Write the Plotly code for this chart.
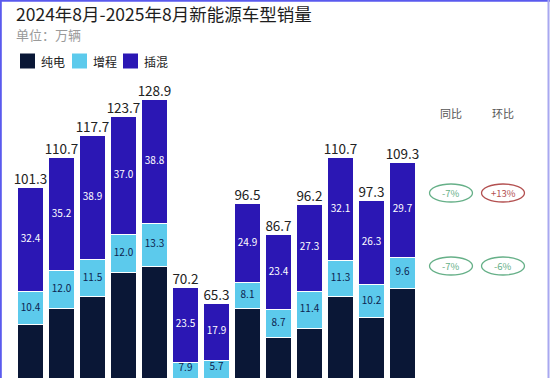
import plotly.graph_objects as go

months = ["2024-08", "2024-09", "2024-10", "2024-11", "2024-12", "2025-01", "2025-02",
          "2025-03", "2025-04", "2025-05", "2025-06", "2025-07", "2025-08"]
total = [101.3, 110.7, 117.7, 123.7, 128.9, 70.2, 65.3, 96.5, 86.7, 96.2, 110.7, 97.3, 109.3]
phev = [32.4, 35.2, 38.9, 37.0, 38.8, 23.5, 17.9, 24.9, 23.4, 27.3, 32.1, 26.3, 29.7]
erev = [10.4, 12.0, 11.5, 12.0, 13.3, 7.9, 5.7, 8.1, 8.7, 11.4, 11.3, 10.2, 9.6]
bev = [round(t - p - e, 1) for t, p, e in zip(total, phev, erev)]
series_names = ["纯电", "增程", "插混"]
yoy = ["-7%", "-7%"]
mom = ["+13%", "-6%"]

C_BEV = "#0a1736"
C_EREV = "#5ccaec"
C_PHEV = "#2b17b4"
FONT = "Noto Sans CJK SC"

W, H = 550, 378
Y_MIN = (512 - H) / 3.2
Y_MAX = 512 / 3.2
x = list(range(len(months)))

fig = go.Figure()
for name, vals, col in [(series_names[0], bev, C_BEV), (series_names[1], erev, C_EREV), (series_names[2], phev, C_PHEV)]:
    fig.add_trace(go.Bar(x=x, y=vals, name=name, marker=dict(color=col, line=dict(color="white", width=1)),
                         width=0.82, showlegend=False, hoverinfo="skip"))

# label at the middle of the visible part of each segment
erev_mid = [(max(b, Y_MIN + 1.2) + b + e) / 2 for b, e in zip(bev, erev)]
phev_mid = [b + e + p / 2 for b, e, p in zip(bev, erev, phev)]
fig.add_trace(go.Scatter(x=x, y=erev_mid, mode="text", text=[f"{v:.1f}" for v in erev],
                         textfont=dict(size=10, color="#0d2450", family=FONT), cliponaxis=False, showlegend=False,
                         hoverinfo="skip"))
fig.add_trace(go.Scatter(x=x, y=phev_mid, mode="text", text=[f"{v:.1f}" for v in phev],
                         textfont=dict(size=10, color="white", family=FONT), cliponaxis=False, showlegend=False,
                         hoverinfo="skip"))
fig.add_trace(go.Scatter(x=x, y=total, mode="text", text=[f"{v:.1f}" for v in total], textposition="top center",
                         textfont=dict(size=13.5, color="#222222", family=FONT), cliponaxis=False, showlegend=False,
                         hoverinfo="skip"))

def px(xp):
    return xp / W

def py(yp):
    return 1 - yp / H

shapes = []
annotations = []
# title
annotations.append(dict(x=px(14), y=py(14), xref="paper", yref="paper", xanchor="left", yanchor="middle",
                        text="2024年8月-2025年8月新能源车型销量", showarrow=False,
                        font=dict(size=17.5, color="#1e1e1e", family=FONT)))
annotations.append(dict(x=px(14), y=py(35), xref="paper", yref="paper", xanchor="left", yanchor="middle",
                        text="单位：万辆", showarrow=False, font=dict(size=13, color="#9a9a9a", family=FONT)))
# legend
leg_x = [20, 72, 123]
for lx, name, col in zip(leg_x, series_names, [C_BEV, C_EREV, C_PHEV]):
    shapes.append(dict(type="rect", xref="paper", yref="paper", x0=px(lx), x1=px(lx + 15), y0=py(68.5), y1=py(53.5),
                       fillcolor=col, line=dict(width=0)))
    annotations.append(dict(x=px(lx + 19), y=py(61), xref="paper", yref="paper", xanchor="left", yanchor="middle",
                            text=name, showarrow=False, font=dict(size=12, color="#222222", family=FONT)))
# comparison headers
for cx, t in [(451, "同比"), (503, "环比")]:
    annotations.append(dict(x=px(cx), y=py(113), xref="paper", yref="paper", xanchor="center", yanchor="middle",
                            text=t, showarrow=False, font=dict(size=11, color="#555555", family=FONT)))
# ovals
rows_y = [193, 266]
for ry, a, b in zip(rows_y, yoy, mom):
    for cx, t in [(451, a), (503, b)]:
        col = "#b35050" if t.startswith("+") else "#66b088"
        shapes.append(dict(type="circle", xref="paper", yref="paper", x0=px(cx - 21.5), x1=px(cx + 21.5),
                           y0=py(ry + 9), y1=py(ry - 9), line=dict(color=col, width=1.3), fillcolor="rgba(0,0,0,0)"))
        annotations.append(dict(x=px(cx), y=py(ry), xref="paper", yref="paper", xanchor="center", yanchor="middle",
                                text=t, showarrow=False, font=dict(size=9.5, color=col, family=FONT)))
# frame
shapes.append(dict(type="line", xref="paper", yref="paper", x0=0, x1=1, y0=py(0.8), y1=py(0.8),
                   line=dict(color="#5a5aee", width=2)))
shapes.append(dict(type="line", xref="paper", yref="paper", x0=px(0.8), x1=px(0.8), y0=0, y1=1,
                   line=dict(color="#5a5aee", width=2)))
shapes.append(dict(type="line", xref="paper", yref="paper", x0=px(548.5), x1=px(548.5), y0=0, y1=1,
                   line=dict(color="#a8a8f0", width=2)))

x0 = -30.5 / 31
x1 = (W - 30.5) / 31
fig.update_layout(
    width=W, height=H, margin=dict(l=0, r=0, t=0, b=0),
    barmode="stack", bargap=0.18,
    plot_bgcolor="white", paper_bgcolor="white",
    xaxis=dict(range=[x0, x1], visible=False, fixedrange=True),
    yaxis=dict(range=[Y_MIN, Y_MAX], visible=False, fixedrange=True),
    shapes=shapes, annotations=annotations, showlegend=False,
    hovermode=False,
)
fig.write_html("out.html", config={"displayModeBar": False, "staticPlot": True},
               post_script="document.body.style.margin='0';document.body.style.overflow='hidden';")
